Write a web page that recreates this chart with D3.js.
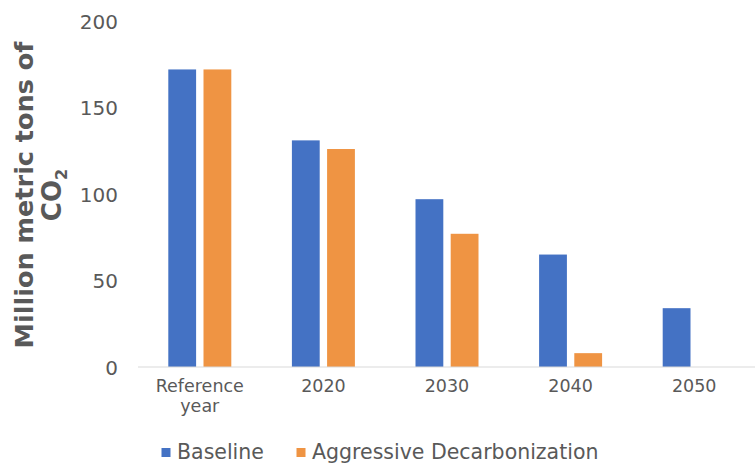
<!DOCTYPE html>
<html>
<head>
<meta charset="utf-8">
<script src="https://cdn.jsdelivr.net/npm/d3@7/dist/d3.min.js"></script>
<style>
  html, body { margin: 0; padding: 0; background: #fff; }
  svg { display: block; }
</style>
</head>
<body>
<svg id="chart" width="755" height="463"></svg>
<script>
// Emission categories and series (million metric tons of CO2)
const categories = ["Reference year", "2020", "2030", "2040", "2050"];
const categoryLines = [["Reference", "year"], ["2020"], ["2030"], ["2040"], ["2050"]];
const seriesNames = ["Baseline", "Aggressive Decarbonization"];
const baseline = [172, 131, 97, 65, 34];
const aggressive = [172, 126, 77, 8, null];
const yTicks = [0, 50, 100, 150, 200];
const colors = ["#4472C4", "#EF9443"];

const svg = d3.select("#chart");
const textColor = "#595959";
const font = "DejaVu Sans, sans-serif";

const x0 = d3.scaleBand().domain(categories).range([138, 756]).padding(0);
const groupHalf = 31.5;
const x1 = d3.scaleBand().domain(seriesNames)
  .range([x0.bandwidth() / 2 - groupHalf, x0.bandwidth() / 2 + groupHalf])
  .paddingInner(0.21).paddingOuter(0);
const y = d3.scaleLinear().domain([0, 200]).range([367, 21]);

// Y axis labels
const yAxis = d3.axisLeft(y).tickValues(yTicks).tickSize(0).tickPadding(0);
const gy = svg.append("g").attr("transform", "translate(118,0)").call(yAxis);
gy.select(".domain").remove();
gy.selectAll("text")
  .attr("fill", textColor)
  .style("font-family", font)
  .style("font-size", "20px")
  .attr("dy", "0.36em");

// Bars
const rows = categories.map((c, i) => ({ cat: c, values: [baseline[i], aggressive[i]] }));
const groups = svg.append("g").selectAll("g").data(rows).join("g")
  .attr("transform", d => `translate(${x0(d.cat)},0)`);
groups.selectAll("rect")
  .data(d => d.values.map((v, j) => ({ name: seriesNames[j], v, j })).filter(e => e.v != null))
  .join("rect")
  .attr("x", e => x1(e.name))
  .attr("width", x1.bandwidth())
  .attr("y", e => y(e.v))
  .attr("height", e => y(0) - y(e.v))
  .attr("fill", e => colors[e.j]);

// Category axis line
svg.append("line")
  .attr("x1", 138).attr("x2", 755)
  .attr("y1", y(0)).attr("y2", y(0))
  .attr("stroke", "#d9d9d9").attr("stroke-width", 1);

// Category labels
const xl = svg.append("g").selectAll("text").data(categories).join("text")
  .attr("x", c => x0(c) + x0.bandwidth() / 2)
  .attr("y", 392)
  .attr("text-anchor", "middle")
  .attr("fill", textColor)
  .style("font-family", font)
  .style("font-size", "17.5px");
xl.each(function (c, i) {
  const t = d3.select(this);
  categoryLines[i].forEach((line, k) => {
    t.append("tspan").attr("x", x0(c) + x0.bandwidth() / 2)
      .attr("dy", k === 0 ? 0 : 20).text(line);
  });
});

// Y axis title
const title = svg.append("g").attr("transform", "translate(0,195) rotate(-90)");
title.append("text")
  .attr("x", 0).attr("y", 33)
  .attr("text-anchor", "middle")
  .attr("fill", textColor)
  .style("font-family", font)
  .style("font-weight", "bold")
  .style("font-size", "25.5px")
  .text("Million metric tons of");
const co2 = title.append("text")
  .attr("x", 0).attr("y", 61)
  .attr("text-anchor", "middle")
  .attr("fill", textColor)
  .style("font-family", font)
  .style("font-weight", "bold")
  .style("font-size", "26px");
co2.append("tspan").text("CO");
co2.append("tspan").attr("dy", 6).style("font-size", "16px").text("2");

// Legend
const legendItems = [
  { name: seriesNames[0], color: colors[0], x: 161.5, tx: 177 },
  { name: seriesNames[1], color: colors[1], x: 296.5, tx: 312 }
];
const lg = svg.append("g").selectAll("g").data(legendItems).join("g");
lg.append("rect").attr("x", d => d.x).attr("y", 448).attr("width", 9).attr("height", 9)
  .attr("fill", d => d.color);
lg.append("text").attr("x", d => d.tx).attr("y", 459)
  .attr("fill", textColor)
  .style("font-family", font)
  .style("font-size", "20.5px")
  .text(d => d.name);
</script>
</body>
</html>
